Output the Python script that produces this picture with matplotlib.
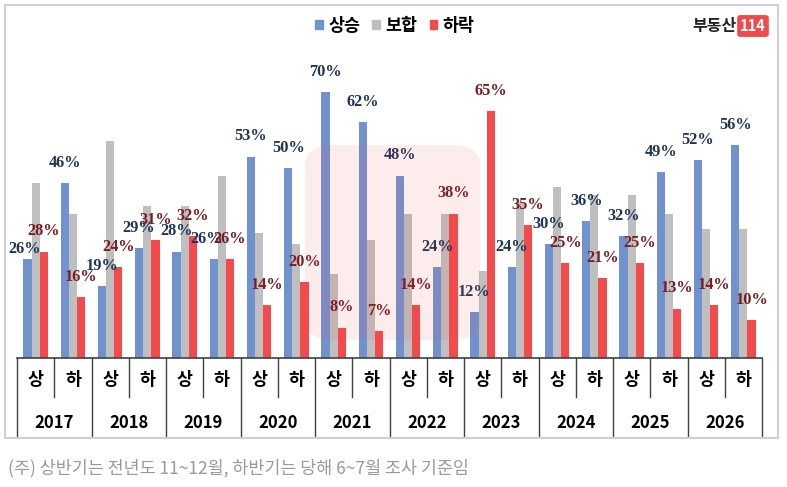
import matplotlib
matplotlib.use('Agg')
import matplotlib.pyplot as plt
import numpy as np
from matplotlib.patches import Rectangle, FancyBboxPatch
from matplotlib.lines import Line2D

plt.rcParams['font.family'] = ['Noto Sans CJK KR', 'DejaVu Sans']

# 데이터
years = ['2017', '2018', '2019', '2020', '2021', '2022', '2023', '2024', '2025', '2026']
halves = ['상', '하']
up = [26, 46, 19, 29, 28, 26, 53, 50, 70, 62, 48, 24, 12, 24, 30, 36, 32, 49, 52, 56]
flat = [46, 38, 57, 40, 40, 48, 33, 30, 22, 31, 38, 38, 23, 41, 45, 43, 43, 38, 34, 34]
down = [28, 16, 24, 31, 32, 26, 14, 20, 8, 7, 14, 38, 65, 35, 25, 21, 25, 13, 14, 10]
legend_names = ['상승', '보합', '하락']

c_up = '#7093d0'
c_flat = '#bfbfbf'
c_down = '#f44a4c'

fig = plt.figure(figsize=(7.87, 4.87), dpi=100)
fig.patch.set_facecolor('white')
fig.add_artist(Rectangle((5 / 787, 1 - 438 / 487), 773 / 787, 433 / 487,
                         transform=fig.transFigure, fill=False,
                         edgecolor='#d0d0d0', linewidth=1.5))

ax = fig.add_axes([17 / 787, 129 / 487, 745 / 787, 304 / 487])
x = np.arange(len(up))
w = 0.22
ax.bar(x - w, up, w, color=c_up)
ax.bar(x, flat, w, color=c_flat)
ax.bar(x + w, down, w, color=c_down)

ax.set_xlim(-0.5, len(up) - 0.5)
ax.set_ylim(0, 80)
ax.set_yticks([])
ax.set_xticks([])
for s in ['top', 'left', 'right']:
    ax.spines[s].set_visible(False)
ax.spines['bottom'].set_color('#404040')
ax.spines['bottom'].set_linewidth(1.2)

lab_font = dict(family='Liberation Serif', fontweight='bold', fontsize=11.8,
                ha='center', va='center', textcoords='offset points')
for i in range(len(up)):
    # 첫 번째 상승 라벨은 하락 라벨과 겹치지 않게 조금 낮고 왼쪽으로
    dx, dy = (-2, 7.5) if i == 0 else (0, 14.5)
    if i == 5:
        dx = -5
    ax.annotate(f'{up[i]}%', (x[i] - w, up[i]), xytext=(dx, dy),
                color='#1f3557', **lab_font)
    ax.annotate(f'{down[i]}%', (x[i] + w, down[i]), xytext=(0, 14.5),
                color='#7a1c22', **lab_font)

trans = ax.get_xaxis_transform()
for i in range(len(up) + 1):
    xp = i - 0.5
    y1 = -0.26 if i % 2 == 0 else -0.128
    ax.add_line(Line2D([xp, xp], [0, y1], transform=trans, color='#404040',
                       linewidth=1, clip_on=False))
for i in range(len(up)):
    ax.text(x[i], -0.072, halves[i % 2], transform=trans, ha='center', va='center',
            fontsize=12.5, fontweight='bold', color='black')
for j, yr in enumerate(years):
    ax.text(2 * j + 0.5, -0.214, yr, transform=trans, ha='center', va='center',
            fontsize=12, fontweight='bold', color='black')

# 범례
handles = [Rectangle((0, 0), 1, 1, color=c) for c in [c_up, c_flat, c_down]]
fig.legend(handles, legend_names, loc='center', bbox_to_anchor=(395 / 787, 1 - 26 / 487),
           ncol=3, frameon=False, handlelength=0.45, handleheight=0.45, handletextpad=0.3,
           columnspacing=0.7, prop={'weight': 'bold', 'size': 12.5})

# 로고
fig.text(737 / 787, 1 - 26 / 487, '부동산', ha='right', va='center', fontsize=11.5,
         fontweight='bold', color='#222222')
fig.text(753 / 787, 1 - 26 / 487, '114', ha='center', va='center', fontsize=10.5,
         fontweight='bold', color='white',
         bbox=dict(boxstyle='round,pad=0.2', facecolor='#f04a4c', edgecolor='none'))

# 워터마크
fig.add_artist(FancyBboxPatch((305 / 787, 1 - 340 / 487), 175 / 787, 195 / 487,
                              boxstyle='round,pad=0,rounding_size=0.04',
                              transform=fig.transFigure, facecolor='#f04a4c',
                              edgecolor='none', alpha=0.1))

fig.text(8 / 787, 1 - 468 / 487, '(주) 상반기는 전년도 11~12월, 하반기는 당해 6~7월 조사 기준임',
         ha='left', va='center', fontsize=12.5, color='#9a9a9a')

fig.savefig('out.png', dpi=100)
